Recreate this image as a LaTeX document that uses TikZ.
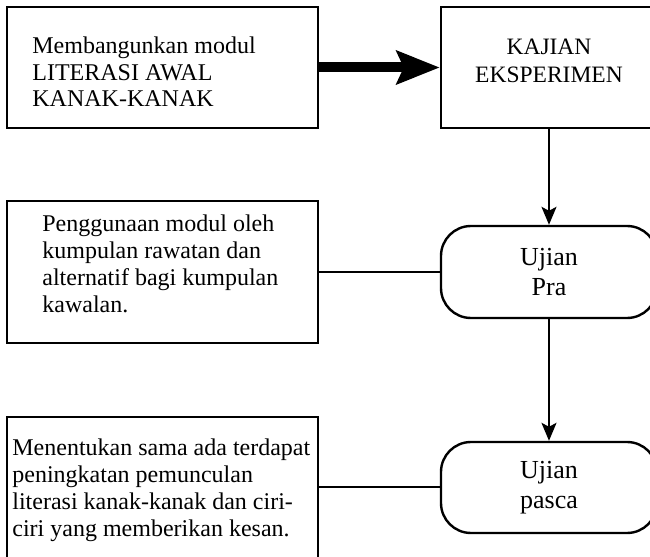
\documentclass[tikz,border=0pt]{standalone}
\usepackage{fontspec}
\setmainfont{Liberation Serif}
\usetikzlibrary{arrows.meta}
\begin{document}
\begin{tikzpicture}[x=0.5pt,y=-0.5pt,
  box/.style={draw, line width=1.2pt, inner sep=0pt},
  rbox/.style={draw, line width=1.2pt, rounded corners=15pt, inner sep=0pt, align=center, font=\fontsize{13}{15}\selectfont},
  txt/.style={align=left, inner sep=0pt, anchor=west},
  conn/.style={line width=1pt},
  arr/.style={conn, -{Stealth[length=9pt,width=7.5pt,inset=2pt]}},
  bigarr/.style={line width=5pt, -{Stealth[length=21.5pt,width=16.5pt,inset=3.5pt]}}
]
\useasboundingbox (0,0) rectangle (650,557);
\clip (0,0) rectangle (650,557);
% boxes
\node[box, minimum width=155.5pt, minimum height=60.5pt] (A) at (162.5,67.5) {};
\node[box, minimum width=108pt, minimum height=60.5pt] (B) at (549,67.5) {};
\node[rbox, minimum width=108pt, minimum height=46pt] (C) at (549,272) {Ujian\\Pra};
\node[rbox, minimum width=108pt, minimum height=45.5pt] (D) at (549,487.5) {Ujian\\pasca};
\node[box, minimum width=155.5pt, minimum height=71pt] (E) at (162.5,272) {};
\node[box, minimum width=155.5pt, minimum height=70.5pt] (F) at (162.5,487.5) {};
% texts
\node[align=center, inner sep=0pt, font=\fontsize{11.75}{14}\selectfont] (tB) at (549,61) {KAJIAN\\EKSPERIMEN};
\node[txt, font=\fontsize{12}{13.25}\selectfont] (tA) at (32,72) {Membangunkan modul\\LITERASI AWAL\\KANAK-KANAK};
\node[txt, font=\fontsize{12}{13.5}\selectfont] (tE) at (42,263.5) {Penggunaan modul oleh\\kumpulan rawatan dan\\alternatif bagi kumpulan\\kawalan.};
\node[txt, font=\fontsize{12}{13.5}\selectfont] (tF) at (12,490) {Menentukan sama ada terdapat\\peningkatan pemunculan\\literasi kanak-kanak dan ciri-\\ciri yang memberikan kesan.};
% connectors
\draw[bigarr] (A.east) -- (B.west);
\draw[arr] (B.south) -- (C.north);
\draw[arr] (C.south) -- (D.north);
\draw[conn] (E.east) -- (C.west);
\draw[conn] (F.east |- D.west) -- (D.west);
\end{tikzpicture}
\end{document}
